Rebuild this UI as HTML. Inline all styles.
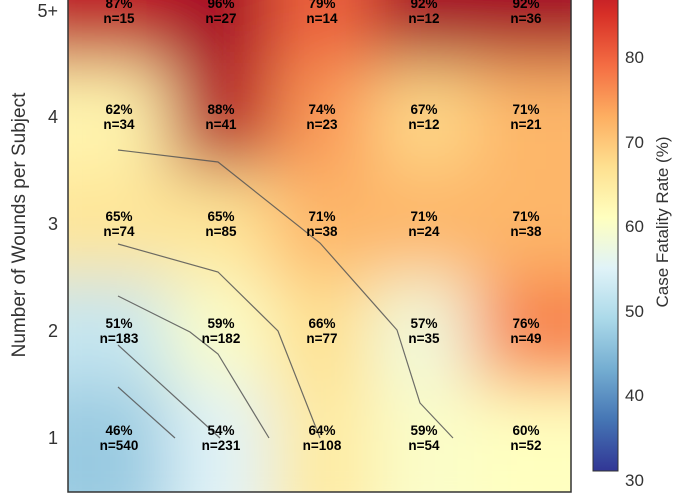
<!DOCTYPE html>
<html><head><meta charset="utf-8"><style>
html,body{margin:0;padding:0;background:#fff;width:680px;height:500px;overflow:hidden}
text{font-family:"Liberation Sans",sans-serif}
.c text{font-weight:bold;font-size:13.5px;fill:#000;text-anchor:middle}
.t{font-size:18px;fill:#333}
</style></head><body>
<svg width="680" height="500" viewBox="0 0 680 500" xmlns="http://www.w3.org/2000/svg" style="display:block">
<defs>
<clipPath id="ax"><rect x="68" y="-43" width="503" height="535"/></clipPath>
<filter id="bl" x="-20%" y="-20%" width="140%" height="140%"><feGaussianBlur stdDeviation="34"/></filter>
<linearGradient id="cb" x1="0" y1="1" x2="0" y2="0">
<stop offset="0" stop-color="#313695"/><stop offset="0.1" stop-color="#4575b4"/><stop offset="0.2" stop-color="#74add1"/><stop offset="0.3" stop-color="#abd9e9"/><stop offset="0.4" stop-color="#e0f3f8"/><stop offset="0.5" stop-color="#ffffbf"/><stop offset="0.6" stop-color="#fee090"/><stop offset="0.7" stop-color="#fdae61"/><stop offset="0.8" stop-color="#f46d43"/><stop offset="0.9" stop-color="#d73027"/><stop offset="1" stop-color="#a50026"/>
</linearGradient>
</defs>
<g clip-path="url(#ax)">
<g filter="url(#bl)">
<rect x="0" y="383" width="170" height="170" fill="#99cae1"/>
<rect x="169" y="383" width="102" height="170" fill="#e0f3f8"/>
<rect x="271" y="383" width="102" height="170" fill="#feeaa0"/>
<rect x="373" y="383" width="102" height="170" fill="#fafdc9"/>
<rect x="474" y="383" width="170" height="170" fill="#ffffbf"/>
<rect x="0" y="276" width="170" height="108" fill="#c6e6f0"/>
<rect x="169" y="276" width="102" height="108" fill="#fafdc9"/>
<rect x="271" y="276" width="102" height="108" fill="#fee090"/>
<rect x="373" y="276" width="102" height="108" fill="#f0f9dc"/>
<rect x="474" y="276" width="170" height="108" fill="#f7824d"/>
<rect x="0" y="169" width="170" height="108" fill="#fee598"/>
<rect x="169" y="169" width="102" height="108" fill="#fee598"/>
<rect x="271" y="169" width="102" height="108" fill="#fdb669"/>
<rect x="373" y="169" width="102" height="108" fill="#fdb669"/>
<rect x="474" y="169" width="170" height="108" fill="#fdb669"/>
<rect x="0" y="62" width="170" height="108" fill="#fff5af"/>
<rect x="169" y="62" width="102" height="108" fill="#b51026"/>
<rect x="271" y="62" width="102" height="108" fill="#fa9857"/>
<rect x="373" y="62" width="102" height="108" fill="#fed888"/>
<rect x="474" y="62" width="170" height="108" fill="#fdb669"/>
<rect x="0" y="-120" width="170" height="183" fill="#be1827"/>
<rect x="169" y="-120" width="102" height="183" fill="#a50026"/>
<rect x="271" y="-120" width="102" height="183" fill="#ef633e"/>
<rect x="373" y="-120" width="102" height="183" fill="#a50026"/>
<rect x="474" y="-120" width="170" height="183" fill="#a50026"/>
</g>
</g>
<g fill="none" stroke="#555" stroke-width="1.2" opacity="0.85">
<polyline points="118,150 218,162 320,243 397,330 420,403 453,438"/>
<polyline points="118,244 218,272 278,331 320,438"/>
<polyline points="118,296 190,332 218,354 269,438"/>
<polyline points="118,345 220,438"/>
<polyline points="118,387 175,438"/>
</g>
<rect x="68" y="-43" width="503" height="535" fill="none" stroke="#333" stroke-width="1.5"/>
<g class="c">
<text x="119" y="8">87%</text><text x="119" y="23">n=15</text>
<text x="221" y="8">96%</text><text x="221" y="23">n=27</text>
<text x="322" y="8">79%</text><text x="322" y="23">n=14</text>
<text x="424" y="8">92%</text><text x="424" y="23">n=12</text>
<text x="526" y="8">92%</text><text x="526" y="23">n=36</text>
<text x="119" y="114">62%</text><text x="119" y="129">n=34</text>
<text x="221" y="114">88%</text><text x="221" y="129">n=41</text>
<text x="322" y="114">74%</text><text x="322" y="129">n=23</text>
<text x="424" y="114">67%</text><text x="424" y="129">n=12</text>
<text x="526" y="114">71%</text><text x="526" y="129">n=21</text>
<text x="119" y="221">65%</text><text x="119" y="236">n=74</text>
<text x="221" y="221">65%</text><text x="221" y="236">n=85</text>
<text x="322" y="221">71%</text><text x="322" y="236">n=38</text>
<text x="424" y="221">71%</text><text x="424" y="236">n=24</text>
<text x="526" y="221">71%</text><text x="526" y="236">n=38</text>
<text x="119" y="328">51%</text><text x="119" y="343">n=183</text>
<text x="221" y="328">59%</text><text x="221" y="343">n=182</text>
<text x="322" y="328">66%</text><text x="322" y="343">n=77</text>
<text x="424" y="328">57%</text><text x="424" y="343">n=35</text>
<text x="526" y="328">76%</text><text x="526" y="343">n=49</text>
<text x="119" y="435">46%</text><text x="119" y="450">n=540</text>
<text x="221" y="435">54%</text><text x="221" y="450">n=231</text>
<text x="322" y="435">64%</text><text x="322" y="450">n=108</text>
<text x="424" y="435">59%</text><text x="424" y="450">n=54</text>
<text x="526" y="435">60%</text><text x="526" y="450">n=52</text>
</g>
<g class="t" text-anchor="end">
<text x="58" y="17">5+</text>
<text x="58" y="123">4</text>
<text x="58" y="230">3</text>
<text x="58" y="337">2</text>
<text x="58" y="444">1</text>
</g>
<text class="t" transform="translate(25,225) rotate(-90)" text-anchor="middle" style="font-size:19px">Number of Wounds per Subject</text>
<rect x="593" y="-36" width="25" height="507" fill="url(#cb)" stroke="#333" stroke-width="1"/>
<g class="t" style="font-size:17px">
<text x="625" y="63">80</text>
<text x="625" y="148">70</text>
<text x="625" y="232">60</text>
<text x="625" y="317">50</text>
<text x="625" y="401">40</text>
<text x="625" y="486">30</text>
</g>
<text class="t" transform="translate(668,222) rotate(-90)" text-anchor="middle" style="font-size:17px">Case Fatality Rate (%)</text>
</svg>
</body></html>
